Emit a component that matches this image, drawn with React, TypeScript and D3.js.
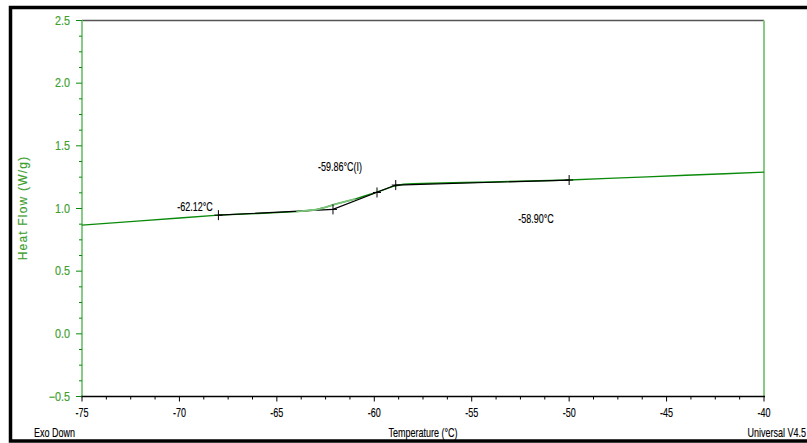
import React from "react";
import * as d3 from "d3";

const temps = [-75, -72, -70, -68, -66, -64, -63, -62.5, -62, -61.5, -61, -60.5, -60, -59.5, -59, -58.5, -58, -56, -54, -52, -50, -48, -46, -44, -42, -40];
const heatFlow = [0.867, 0.901, 0.924, 0.947, 0.96, 0.975, 0.99, 1.01, 1.035, 1.055, 1.075, 1.1, 1.125, 1.15, 1.178, 1.193, 1.198, 1.205, 1.212, 1.219, 1.227, 1.24, 1.252, 1.265, 1.277, 1.29];
const analysisT = [-68, -62.12, -58.9, -50];
const analysisV = [0.947, 0.993, 1.187, 1.227];
const markT = [-68, -62.12, -59.86, -58.9, -50];
const markV = [0.947, 0.993, 1.128, 1.187, 1.227];
const xTicks = [-75, -70, -65, -60, -55, -50, -45, -40];
const yTicks = [-0.5, 0.0, 0.5, 1.0, 1.5, 2.0, 2.5];
const annotations = [
  { t: -69.2, v: 1.01, text: "-62.12°C" },
  { t: -61.76, v: 1.333, text: "-59.86°C(I)" },
  { t: -51.7, v: 0.915, text: "-58.90°C" },
];

const W = 807, H = 443;
const L = 82, R = 764, T = 20.5, B = 396.5;
const FONT = "'Liberation Sans', Arial, sans-serif";
const GREEN = "#0a8a0a";
const LIGHTG = "#7cc47c";
const AXG = "#86cc86";
const LBLG = "#3e9e2e";

function NText(props: { x: number; y: number; anchor?: string; fill?: string; size?: number; sx?: number; children: React.ReactNode }) {
  const { x, y, anchor = "start", fill = "#000", size = 12.5, sx = 0.72, children } = props;
  return (
    <text
      transform={`translate(${x},${y}) scale(${sx},1)`}
      textAnchor={anchor}
      fontFamily={FONT}
      fontSize={size}
      fill={fill}
      stroke={fill}
      strokeWidth={0.15}
    >
      {children}
    </text>
  );
}

export default function App() {
  const x = d3.scaleLinear().domain([-75, -40]).range([L, R]);
  const y = d3.scaleLinear().domain([-0.5, 2.5]).range([B, T]);
  const line = d3.line<number>().x((_, i) => x(temps[i])).y((d) => y(d));
  const aline = d3.line<number>().x((_, i) => x(analysisT[i])).y((d) => y(d));
  const pairs = temps.map((t, i) => [t, heatFlow[i]] as [number, number]);
  const lightSeg = pairs.filter((p) => p[0] >= -64 && p[0] <= -61);
  const pline = d3.line<[number, number]>().x((p) => x(p[0])).y((p) => y(p[1]));

  const xMinor = d3.range(-75, -40 + 0.001, 1.25);
  const yMinor = d3.range(-0.5, 2.5 + 0.001, 0.125);

  return (
    <svg width={W} height={H} style={{ position: "fixed", left: 0, top: 0, background: "#fff" }}>
      <rect x={0} y={0} width={W} height={H} fill="#fff" />
      <rect x={10.5} y={7.5} width={810} height={433.5} fill="none" stroke="#000" strokeWidth={3.5} />
      <line x1={L} x2={R} y1={T} y2={T} stroke="#555" strokeWidth={1.5} />
      <line x1={R} x2={R} y1={T} y2={B} stroke={AXG} strokeWidth={2} />
      <line x1={L} x2={L} y1={T} y2={B} stroke={AXG} strokeWidth={2} />
      <line x1={L - 1} x2={R + 1} y1={B} y2={B} stroke="#000" strokeWidth={1.5} />
      {yMinor.map((v, i) => {
        const major = i % 4 === 0;
        return <line key={"ym" + i} x1={L - (major ? 6 : 3)} x2={L} y1={y(v)} y2={y(v)} stroke={GREEN} strokeWidth={1} />;
      })}
      {yTicks.map((v) => (
        <NText key={"yt" + v} x={70} y={y(v) + 4} anchor="end" fill={LBLG} size={12} sx={0.9}>
          {d3.format(".1f")(v)}
        </NText>
      ))}
      {xMinor.map((t, i) => {
        const major = i % 4 === 0;
        return <line key={"xm" + i} x1={x(t)} x2={x(t)} y1={B} y2={B + (major ? 5 : 3)} stroke="#000" strokeWidth={1} />;
      })}
      {xTicks.map((t) => (
        <NText key={"xt" + t} x={x(t)} y={417} anchor="middle">
          {t}
        </NText>
      ))}
      <NText x={34} y={437}>Exo Down</NText>
      <NText x={423} y={437} anchor="middle">Temperature (°C)</NText>
      <NText x={806} y={437} anchor="end">Universal V4.5</NText>
      <text
        transform={`translate(27, 208) rotate(-90)`}
        textAnchor="middle"
        fontFamily={FONT}
        fontSize={12}
        letterSpacing={1.2}
        fill={LBLG}
        stroke={LBLG}
        strokeWidth={0.15}
      >
        Heat Flow (W/g)
      </text>
      <path d={line(heatFlow) || ""} fill="none" stroke={GREEN} strokeWidth={1.4} />
      <path d={aline(analysisV) || ""} fill="none" stroke="#000" strokeWidth={1.2} />
      <path d={pline(lightSeg) || ""} fill="none" stroke={LIGHTG} strokeWidth={1.8} />
      {markT.map((t, i) => (
        <g key={"mk" + i}>
          <line x1={x(t)} x2={x(t)} y1={y(markV[i]) - 5} y2={y(markV[i]) + 5} stroke="#000" strokeWidth={1} />
          <line x1={x(t) - 4} x2={x(t) + 4} y1={y(markV[i])} y2={y(markV[i])} stroke="#000" strokeWidth={1} />
        </g>
      ))}
      {annotations.map((a, i) => (
        <NText key={"an" + i} x={x(a.t)} y={y(a.v) + 4} anchor="middle">
          {a.text}
        </NText>
      ))}
    </svg>
  );
}
